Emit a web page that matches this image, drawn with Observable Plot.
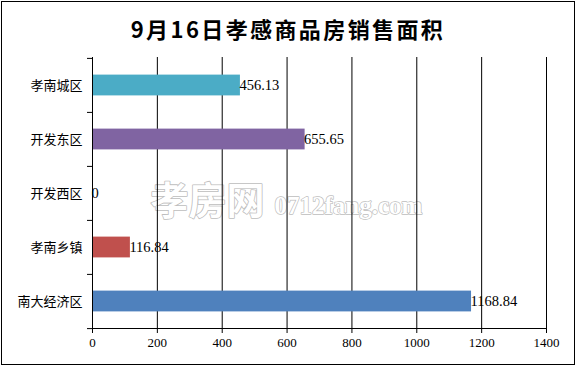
<!DOCTYPE html>
<html>
<head>
<meta charset="utf-8">
<script src="https://cdn.jsdelivr.net/npm/d3@7"></script>
<script src="https://cdn.jsdelivr.net/npm/@observablehq/plot@0.6"></script>
<style>
  html, body { margin: 0; padding: 0; background: #fff; }
  #wrap { position: relative; width: 576px; height: 366px; overflow: hidden; }
  #border { position: absolute; left: 1px; top: 1px; width: 574px; height: 364px; box-sizing: border-box; border: 1px solid #000; pointer-events: none; }
  #title { height: 40px; padding-top: 14px; box-sizing: border-box; line-height: 28px; text-align: center; font-family: "Noto Sans CJK SC", sans-serif; font-weight: 700; font-size: 22px; letter-spacing: 2.4px; color: #000; }
  svg { display: block; }
</style>
</head>
<body>
<div id="wrap">
  <div id="title">9月16日孝感商品房销售面积</div>
  <div id="chart"></div>
  <div id="border"></div>
</div>
<script>
const categories = ["孝南城区", "开发东区", "开发西区", "孝南乡镇", "南大经济区"];
const values = [456.13, 655.65, 0, 116.84, 1168.84];
const colors = ["#4BACC6", "#8064A2", "#9BBB59", "#C0504D", "#4F81BD"];
const xTicks = [0, 200, 400, 600, 800, 1000, 1200, 1400];
const watermarkCn = ["孝房网"];
const watermarkEn = ["0712fang.com"];

const data = categories.map((c, i) => ({cat: c, value: values[i], color: colors[i]}));

const W = 576, H = 326, mt = 17, mb = 38, ml = 92, mr = 30;
const bw = (H - mt - mb) / categories.length;
const barH = 21;
const inset = (bw - barH) / 2;
const numFont = "Liberation Serif, serif";

const chart = Plot.plot({
  width: W,
  height: H,
  marginTop: mt,
  marginBottom: mb,
  marginLeft: ml,
  marginRight: mr,
  style: {background: "#fff", color: "#000"},
  x: {domain: [0, 1400], label: null},
  y: {domain: categories, padding: 0, label: null},
  marks: [
    Plot.text(watermarkCn, {frameAnchor: "middle", text: d => d, dx: -112, dy: 9, fontSize: 38, fontWeight: 700, fontFamily: "Noto Sans CJK SC, sans-serif", fill: "#fff", stroke: "#bdbdbd", strokeWidth: 1.6}),
    Plot.text(watermarkEn, {frameAnchor: "middle", text: d => d, dx: 29, dy: 13, fontSize: 25, fontWeight: 700, fontFamily: "Liberation Serif, serif", fill: "#fff", stroke: "#bdbdbd", strokeWidth: 1.4}),
    Plot.ruleX(xTicks.filter(d => d > 0), {stroke: "#000", strokeWidth: 1}),
    Plot.barX(data, {x: "value", y: "cat", fill: "color", insetTop: inset, insetBottom: inset}),
    Plot.text(data, {x: "value", y: "cat", text: d => String(d.value), textAnchor: "start", dx: -1, fontSize: 14.5, fontFamily: numFont, fill: "#000"}),
    Plot.axisX({ticks: xTicks, tickSize: 5, tickPadding: 4, fontSize: 13, fontFamily: numFont, stroke: "#000", tickFormat: d => String(d), label: null}),
    Plot.axisY({tickSize: 0, tickPadding: 10, fontSize: 13, fontFamily: "Noto Sans CJK SC, sans-serif", label: null}),
    Plot.axisY({text: null, tickSize: 5, dy: -bw / 2, label: null}),
    Plot.axisY([categories[categories.length - 1]], {text: null, tickSize: 5, dy: bw / 2, label: null}),
    Plot.frame({anchor: "left", stroke: "#000"}),
    Plot.frame({anchor: "bottom", stroke: "#000"})
  ]
});
document.getElementById("chart").appendChild(chart);
</script>
</body>
</html>
